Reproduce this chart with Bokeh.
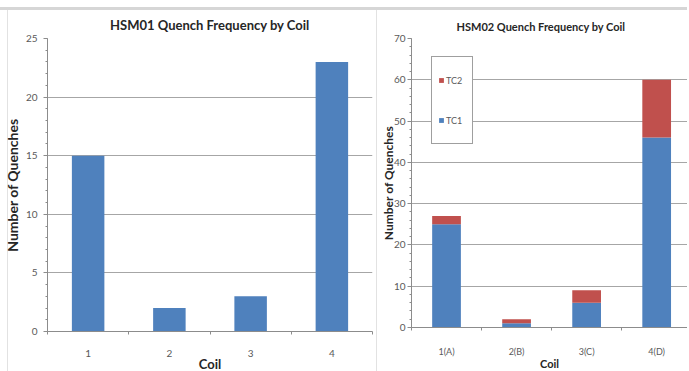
from bokeh.plotting import figure
from bokeh.models import (ColumnDataSource, Range1d, FixedTicker, Legend, LegendItem)
from bokeh.layouts import row
from bokeh.embed import file_html
from bokeh.resources import INLINE

# Quench counts per coil
coils1 = ["1", "2", "3", "4"]
hsm01 = [15, 2, 3, 23]

coils2 = ["1(A)", "2(B)", "3(C)", "4(D)"]
tc1 = [25, 1, 6, 46]
tc2 = [2, 1, 3, 14]

BLUE = "#4F81BD"
RED = "#C0504D"
FONT = "Lato"
GRID = "#a6a6a6"
AXIS = "#8c8c8c"
TICK_TXT = "#595959"


def panel_bg(edge_lines):
    # faint chart-area edges: a top band plus vertical edge lines
    layers = ["linear-gradient(#d6d6d6,#d6d6d6) 0 7px / 100% 3px no-repeat"]
    for pos in edge_lines:
        layers.append(f"linear-gradient(#e2e2e2,#e2e2e2) {pos} top 10px / 1px 100% no-repeat")
    layers.append("#ffffff")
    return {"background": ", ".join(layers)}


def style(p, y_max, y_step, n, label_px):
    p.outline_line_color = None
    p.border_fill_alpha = 0
    p.xgrid.grid_line_color = None
    p.ygrid.grid_line_color = GRID
    p.ygrid.grid_line_width = 1
    p.title.text_font = FONT
    p.title.text_font_style = "bold"
    p.title.text_color = "#262626"
    yax = p.yaxis[0]
    yax.ticker = FixedTicker(ticks=list(range(0, y_max + 1, y_step)),
                             minor_ticks=list(range(0, y_max + 1, y_step // 5)))
    xax = p.xaxis[0]
    xax.ticker = FixedTicker(ticks=list(range(n)),
                             minor_ticks=[i - 0.5 for i in range(n + 1)])
    for ax in (xax, yax):
        ax.axis_line_color = AXIS
        ax.major_tick_line_color = AXIS
        ax.minor_tick_line_color = AXIS
        ax.major_label_text_font = FONT
        ax.major_label_text_color = TICK_TXT
        ax.major_label_text_font_size = "10px"
        ax.axis_label_text_font = FONT
        ax.axis_label_text_font_style = "bold"
        ax.axis_label_text_color = "#262626"
        ax.axis_label_text_font_size = label_px
    xax.major_tick_line_color = None
    xax.minor_tick_in = 0
    xax.minor_tick_out = 3
    yax.major_tick_in = 0
    yax.major_tick_out = 4
    yax.minor_tick_in = 0
    yax.minor_tick_out = 2
    return xax, yax


# Left panel: HSM01
src1 = ColumnDataSource(dict(x=list(range(len(coils1))), y=hsm01))
p1 = figure(frame_width=325, frame_height=293, output_backend="svg", toolbar_location=None,
            title="HSM01 Quench Frequency by Coil",
            x_range=Range1d(-0.5, 3.5), y_range=Range1d(0, 25),
            min_border_left=40, min_border_right=5, min_border_top=37, min_border_bottom=41,
            styles=panel_bg(["left 7px", "right 0px"]))
p1.vbar(x="x", top="y", width=0.4, source=src1, color=BLUE, line_color=None)
x1, y1 = style(p1, 25, 5, len(coils1), "14px")
p1.title.text_font_size = "13px"
p1.title.align = "center"
x1.major_label_overrides = {i: c for i, c in enumerate(coils1)}
x1.axis_label = "Coil"
x1.axis_label_text_font_size = "13px"
y1.axis_label = "Number of Quenches"
y1.major_label_standoff = 6
y1.axis_label_standoff = 2
x1.major_label_standoff = 12
x1.axis_label_standoff = -4
p1.title.standoff = 11

# Right panel: HSM02, stacked by thermocouple
src2 = ColumnDataSource(dict(x=list(range(len(coils2))), TC1=tc1, TC2=tc2))
p2 = figure(frame_width=276, frame_height=289, output_backend="svg", toolbar_location=None,
            title="HSM02 Quench Frequency by Coil",
            x_range=Range1d(-0.5, 3.44), y_range=Range1d(0, 70),
            min_border_left=30, min_border_right=0, min_border_top=38, min_border_bottom=44,
            styles=panel_bg([]))
rs = p2.vbar_stack(["TC1", "TC2"], x="x", width=0.41, color=[BLUE, RED],
                   line_color=None, source=src2)
x2, y2 = style(p2, 70, 10, len(coils2), "12px")
p2.title.text_font_size = "11px"
p2.title.align = "left"
p2.title.offset = 45
x2.major_label_overrides = {i: c for i, c in enumerate(coils2)}
x2.major_label_text_font_size = "9px"
x2.axis_label = "Coil"
x2.axis_label_text_font_size = "11px"
y2.axis_label = "Number of Quenches"
y2.major_label_standoff = 2
y2.axis_label_standoff = -5
x2.major_label_standoff = 12
x2.axis_label_standoff = -3
p2.title.standoff = 12

legend = Legend(items=[LegendItem(label="TC2", renderers=[rs[1]]),
                       LegendItem(label="TC1", renderers=[rs[0]])],
                location=(20, 183), orientation="vertical",
                padding=6, spacing=6, label_height=34, glyph_width=6, glyph_height=6,
                label_standoff=2, label_text_font=FONT, label_text_font_size="9px",
                label_text_color=TICK_TXT, border_line_color="#404040",
                border_line_width=1, background_fill_alpha=1, margin=0)
p2.add_layout(legend, "center")

layout = row(p1, p2, spacing=0)
open("out.html", "w").write(file_html(layout, INLINE))
